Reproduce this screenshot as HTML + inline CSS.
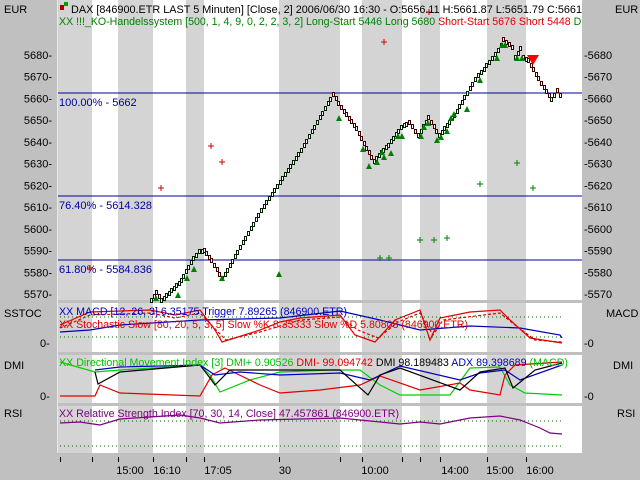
<!DOCTYPE html>
<html><head><meta charset="utf-8"><style>
html,body{margin:0;padding:0;background:#c0c0c0;width:640px;height:480px;overflow:hidden}
svg{display:block}
text{font-family:"Liberation Sans",sans-serif;font-size:11px}
</style></head><body>
<svg id="s" width="640" height="480" xmlns="http://www.w3.org/2000/svg">
<defs><clipPath id="cp"><rect x="0" y="0" width="582" height="480"/></clipPath></defs>
<rect width="640" height="480" fill="#c0c0c0"/>
<g id="bands"></g>
<rect x="58" y="300" width="524" height="3" fill="#c0c0c0"/>
<rect x="58" y="352" width="524" height="3" fill="#c0c0c0"/>
<rect x="58" y="403" width="524" height="3" fill="#c0c0c0"/>
<rect x="58" y="453" width="524" height="27" fill="#c0c0c0"/>
<line x1="57.5" y1="0" x2="57.5" y2="453" stroke="#e8e8e8"/>
<g stroke="#0000a0" stroke-width="1">
<line x1="58" y1="93" x2="582" y2="93"/><line x1="58" y1="196" x2="582" y2="196"/><line x1="58" y1="260" x2="582" y2="260"/>
</g>
<g fill="#0000a0"><text x="59" y="106">100.00% - 5662</text><text x="59" y="209">76.40% - 5614.328</text><text x="59" y="273">61.80% - 5584.836</text></g>
<g stroke="#006000" stroke-dasharray="1,3">
<line x1="60" y1="317" x2="562" y2="317"/><line x1="60" y1="337" x2="562" y2="337"/>
<line x1="60" y1="421" x2="562" y2="421"/><line x1="60" y1="446" x2="562" y2="446"/>
</g>
<g id="price"></g>
<g id="marks"></g>
<rect x="60" y="5" width="4" height="5" fill="#a00000"/><rect x="64" y="2" width="4" height="4" fill="#00a000"/>
<g clip-path="url(#cp)">
<text x="71" y="13" fill="#000" textLength="511" lengthAdjust="spacingAndGlyphs">DAX [846900.ETR LAST 5 Minuten] [Close, 2] 2006/06/30 16:30 - O:5656.11 H:5661.87 L:5651.79 C:5661</text>
<text x="59" y="25" fill="#008000" textLength="530" lengthAdjust="spacingAndGlyphs">XX !!!_KO-Handelssystem [500, 1, 4, 9, 0, 2, 2, 3, 2] Long-Start 5446 Long 5680 <tspan fill="#e00000">Short-Start 5676 Short 5448</tspan> DN</text>
</g>
<text x="4" y="13">EUR</text><text x="615" y="13">EUR</text>
<g id="axes"></g>
<g id="ind" fill="none" stroke-width="1.2"></g>
<text x="59" y="315" fill="#0000c0" textLength="288" lengthAdjust="spacingAndGlyphs">XX MACD [12, 26, 3] 6.35175 Trigger 7.89265 (846900.ETR)</text>
<text x="59" y="328" fill="#e00000" textLength="409" lengthAdjust="spacingAndGlyphs">XX Stochastic Slow [80, 20, 5, 3, 5] Slow %K 8.33333 Slow %D 5.80808 (846900.ETR)</text>
<text x="59" y="366" fill="#00c000" textLength="509" lengthAdjust="spacingAndGlyphs">XX Directional Movement Index [3] DMI+ 0.90526 <tspan fill="#e00000">DMI- 99.094742</tspan> <tspan fill="#000">DMI 98.189483</tspan> <tspan fill="#0000c0">ADX 89.398689</tspan> (MACD)</text>
<text x="59" y="417" fill="#800080" textLength="340" lengthAdjust="spacingAndGlyphs">XX Relative Strength Index [70, 30, 14, Close] 47.457861 (846900.ETR)</text>
<text x="4" y="317">SSTOC</text><text x="606" y="317">MACD</text>
<text x="4" y="369">DMI</text><text x="613" y="369">DMI</text>
<text x="4" y="417">RSI</text><text x="617" y="417">RSI</text>
<text x="40" y="347">0-</text><text x="584" y="347">-0</text>
<text x="40" y="400">0-</text><text x="584" y="400">-0</text>
<g id="ticks" stroke="#000"></g>
<g text-anchor="middle"><text x="130" y="474">15:00</text><text x="167" y="474">16:10</text><text x="218" y="474">17:05</text><text x="285" y="474">30</text><text x="375" y="474">10:00</text><text x="455" y="474">14:00</text><text x="500" y="474">15:00</text><text x="540" y="474">16:00</text></g>
</svg>
<script>
var NS="http://www.w3.org/2000/svg";
function el(p,t,a){var e=document.createElementNS(NS,t);for(var k in a)e.setAttribute(k,a[k]);document.getElementById(p).appendChild(e);return e;}
var b=[[58,92,1],[92,118,0],[118,153,1],[153,186,0],[186,204,1],[204,279,0],[279,340,1],[340,362,0],[362,402,1],[402,420,0],[420,440,1],[440,487,0],[487,526,1],[526,582,0]];
b.forEach(function(x){el("bands","rect",{x:x[0],y:0,width:x[1]-x[0],height:453,fill:x[2]?"#d4d4d4":"#ffffff"});});
for(var i=0;i<12;i++){var v=5680-i*10,y=55+i*21.73;
el("axes","text",{x:52,y:y+4,"text-anchor":"end"}).textContent=v+"-";
el("axes","text",{x:584,y:y+4}).textContent="-"+v;}
[60,92,118,153,186,204,279,340,362,402,420,440,487,526].forEach(function(x){el("ticks","line",{x1:x+.5,y1:457,x2:x+.5,y2:462});});
var P=[[150,300],[155,292],[160,300],[168,293],[180,280],[192,258],[198,251],[203,250],[210,260],[221,278],[226,270],[260,210],[300,150],[332,94],[340,107],[355,128],[365,148],[373,161],[380,152],[387,145],[400,127],[408,122],[417,135],[427,117],[438,135],[453,115],[463,97],[477,75],[488,62],[497,50],[502,39],[511,47],[514,57],[519,48],[522,57],[527,60],[540,83],[550,99],[556,90],[562,100]];
for(var k=0;k<P.length-1;k++){var a=P[k],c=P[k+1],n=Math.max(1,Math.round((c[0]-a[0])/2.6));
for(var j=0;j<n;j++){var t=j/n,x=a[0]+(c[0]-a[0])*t,y=a[1]+(c[1]-a[1])*t;var col=c[1]>a[1]?"#400000":"#002000";
el("price","rect",{x:(Math.round(x)+0.5),y:Math.round(y-2)+0.5,width:2,height:4,fill:"#fff",stroke:col,"stroke-width":1});}}
[[156,298],[178,295],[187,278],[194,269],[222,278],[279,274],[339,118],[363,149],[369,166],[377,162],[384,157],[391,153],[382,152],[398,136],[402,136],[421,136],[424,127],[428,123],[437,140],[441,137],[447,131],[451,118],[454,114],[467,109],[480,80],[497,58],[502,45],[505,45],[517,58],[522,58]].forEach(function(p){
el("marks","path",{d:"M"+(p[0]-3)+" "+(p[1]+3)+"L"+p[0]+" "+(p[1]-3)+"L"+(p[0]+3)+" "+(p[1]+3)+"Z",fill:"#008000"});});
function plus(x,y,c){el("marks","path",{d:"M"+(x-3)+" "+y+"H"+(x+3)+"M"+x+" "+(y-3)+"V"+(y+3),stroke:c,fill:"none"});}
[[161,188],[211,146],[222,162],[384,42],[429,12],[90,268]].forEach(function(p){plus(p[0],p[1],"#d00000");});
[[480,184],[517,163],[533,188],[380,258],[389,258],[420,240],[434,240],[447,238]].forEach(function(p){plus(p[0],p[1],"#008000");});
el("marks","path",{d:"M527 55L539 55L533 65Z",fill:"#ff0000"});
function line(pts,c,dash){var a={points:pts.map(function(p){return p.join(",")}).join(" "),stroke:c};if(dash)a["stroke-dasharray"]=dash;el("ind","polyline",a);}
line([[60,332],[90,330],[120,325],[200,320],[280,318],[340,311],[380,320],[420,330],[470,326],[520,328],[560,335],[562,338]],"#0000c0");
line([[60,325],[90,312],[150,310],[175,315],[200,310],[215,330],[222,342],[260,330],[280,322],[300,318],[340,315],[355,335],[375,342],[395,320],[420,310],[430,340],[440,318],[470,312],[500,310],[510,320],[530,338],[562,343]],"#e00000");
line([[60,328],[90,315],[150,313],[175,318],[200,313],[218,332],[226,340],[260,332],[300,320],[340,317],[358,330],[378,338],[398,322],[420,313],[433,335],[443,320],[500,313],[515,325],[535,340],[562,342]],"#e00000","3,2");
line([[60,362],[95,372],[120,370],[200,365],[210,375],[220,392],[250,380],[280,372],[330,370],[360,370],[380,385],[400,395],[450,395],[470,368],[500,367],[510,385],[525,393],[562,395]],"#00d000");
line([[60,396],[95,396],[100,385],[120,393],[200,396],[212,375],[225,368],[260,385],[280,393],[320,390],[360,385],[380,376],[420,390],[460,383],[470,390],[500,395],[505,375],[515,365],[562,362]],"#e00000");
line([[95,370],[120,367],[200,365],[215,375],[240,372],[280,375],[340,373],[370,380],[400,366],[460,380],[480,373],[505,370],[520,380],[562,365]],"#0000c0");
line([[95,372],[98,384],[120,372],[200,365],[210,378],[215,385],[230,370],[340,370],[368,395],[380,375],[400,368],[460,390],[480,372],[505,368],[513,388],[535,370],[562,363]],"#000");
line([[60,423],[80,422],[100,425],[120,419],[180,415],[200,418],[220,423],[260,420],[340,418],[380,422],[400,424],[420,422],[440,424],[470,418],[500,416],[520,420],[540,428],[550,433],[562,434]],"#800080");
</script>
</body></html>
